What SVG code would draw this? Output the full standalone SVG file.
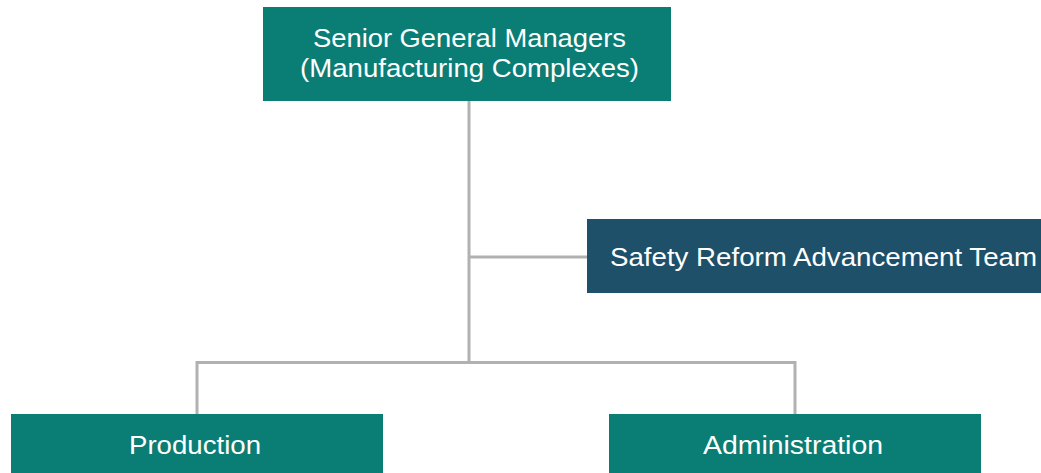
<svg xmlns="http://www.w3.org/2000/svg" width="1041" height="473" viewBox="0 0 1041 473">
<style>
.teal{fill:#0a7d75}
.navy{fill:#1e5069}
.lbl{font-family:"Liberation Sans",Arial,sans-serif;font-size:25px;fill:#ffffff}
.conn{stroke:#b1b1b1;stroke-width:3;fill:none}
</style>
<rect width="1041" height="473" fill="#ffffff"/>
<g id="connectors">
<path class="conn" d="M469 101V362"/>
<path class="conn" d="M469 257H587"/>
<path class="conn" d="M197 414V362.5H795V414"/>
</g>
<g id="senior">
<rect class="teal" x="263" y="7" width="408" height="94"/>
<text class="lbl" x="313" y="47" textLength="313" lengthAdjust="spacingAndGlyphs">Senior General Managers</text>
<text class="lbl" x="300" y="77" textLength="339" lengthAdjust="spacingAndGlyphs">(Manufacturing Complexes)</text>
</g>
<g id="safety">
<rect class="navy" x="587" y="219" width="454" height="74"/>
<text class="lbl" x="610" y="266" textLength="427" lengthAdjust="spacingAndGlyphs">Safety Reform Advancement Team</text>
</g>
<g id="production">
<rect class="teal" x="11" y="414" width="372" height="59"/>
<text class="lbl" x="129" y="454" textLength="132" lengthAdjust="spacingAndGlyphs">Production</text>
</g>
<g id="administration">
<rect class="teal" x="609" y="414" width="372" height="59"/>
<text class="lbl" x="703" y="454" textLength="180" lengthAdjust="spacingAndGlyphs">Administration</text>
</g>
</svg>
